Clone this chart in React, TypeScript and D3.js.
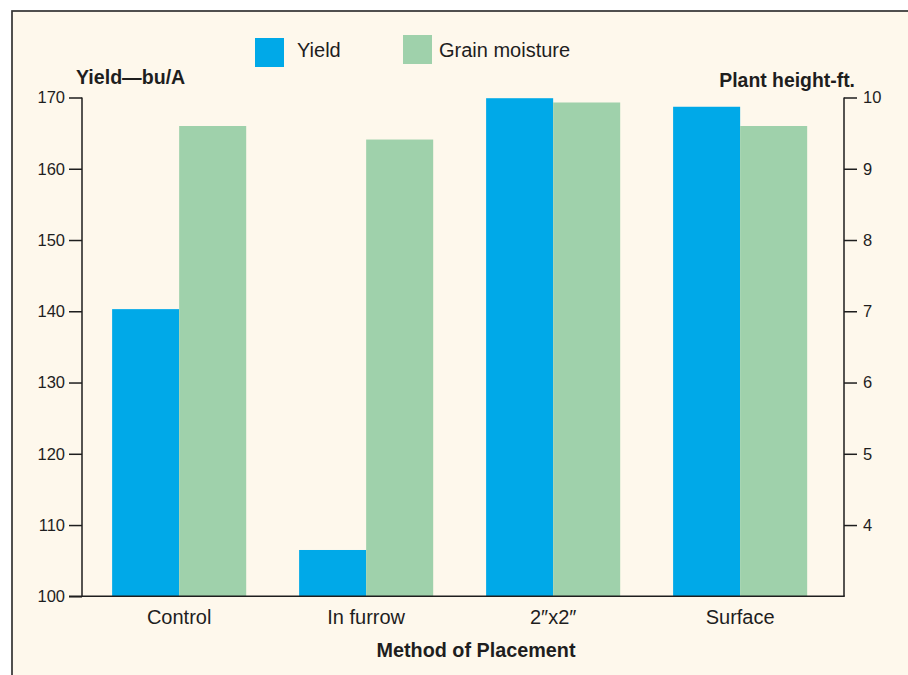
import React, { useEffect, useRef } from "react";
import * as d3 from "d3";

const categories = ["Control", "In furrow", "2\u2033x2\u2033", "Surface"];
const seriesNames = ["Yield", "Grain moisture"];
const yieldValues = [140.3, 106.5, 169.9, 168.7];
const heightValues = [9.6, 9.41, 9.93, 9.6];
const leftTicks = [100, 110, 120, 130, 140, 150, 160, 170];
const rightTicks = [4, 5, 6, 7, 8, 9, 10];

const W = 908;
const H = 675;
const BG = "#fef8ec";
const BLUE = "#00a9e8";
const GREEN = "#9fd1ab";
const INK = "#1e1e1e";
const FONT = "'Liberation Sans', Arial, Helvetica, sans-serif";

export default function App() {
  const leftAxisRef = useRef<SVGGElement>(null);
  const rightAxisRef = useRef<SVGGElement>(null);
  const bottomAxisRef = useRef<SVGGElement>(null);

  const x0 = 82;
  const x1 = 844;
  const yBottom = 596.3;
  const yTop = 97.5;

  const x = d3
    .scaleBand<string>()
    .domain(categories)
    .range([x0, x1])
    .paddingInner(0.283)
    .paddingOuter(0.179)
    .align(0.45);
  const xSub = d3.scaleBand<string>().domain(seriesNames).range([0, x.bandwidth()]);
  const yLeft = d3.scaleLinear().domain([100, 170]).range([yBottom, yTop]);
  const yRight = d3.scaleLinear().domain([3, 10]).range([yBottom, yTop]);

  useEffect(() => {
    const styleAxis = (g: d3.Selection<SVGGElement, unknown, null, undefined>) => {
      g.select(".domain").remove();
      g.selectAll(".tick line").attr("stroke", INK).attr("stroke-width", 1.5);
      g.selectAll(".tick text")
        .attr("fill", INK)
        .style("font-family", FONT)
        .style("font-size", "16.5px");
    };
    const gl = d3.select(leftAxisRef.current!);
    gl.call(d3.axisLeft(yLeft).tickValues(leftTicks).tickSize(13).tickPadding(4).tickFormat(d3.format("d")));
    styleAxis(gl);
    const gr = d3.select(rightAxisRef.current!);
    gr.call(d3.axisRight(yRight).tickValues(rightTicks).tickSize(13).tickPadding(6).tickFormat(d3.format("d")));
    styleAxis(gr);
    const gb = d3.select(bottomAxisRef.current!);
    gb.call(d3.axisBottom(x).tickSize(0).tickPadding(14));
    gb.select(".domain").remove();
    gb.selectAll(".tick text")
      .attr("fill", INK)
      .style("font-family", FONT)
      .style("font-size", "20px");
  }, []);

  return (
    <svg
      width={W}
      height={H}
      style={{ position: "absolute", left: 0, top: 0, background: "#ffffff" }}
    >
      <rect x={12} y={11} width={W} height={H} fill={BG} stroke="#333" strokeWidth={1.7} />

      {/* legend */}
      <rect x={255} y={38} width={29} height={29} fill={BLUE} />
      <text x={297} y={57.3} fontFamily={FONT} fontSize={20} fill={INK}>
        {seriesNames[0]}
      </text>
      <rect x={403} y={35} width={29} height={29} fill={GREEN} />
      <text x={439} y={56.7} fontFamily={FONT} fontSize={20} fill={INK}>
        {seriesNames[1]}
      </text>

      {/* axis titles */}
      <text x={76} y={84} fontFamily={FONT} fontSize={19.6} fontWeight="bold" fill={INK}>
        Yield—bu/A
      </text>
      <text x={855} y={87} textAnchor="end" fontFamily={FONT} fontSize={19.4} fontWeight="bold" fill={INK}>
        Plant height-ft.
      </text>
      <text x={476} y={657} textAnchor="middle" fontFamily={FONT} fontSize={19.8} fontWeight="bold" fill={INK}>
        Method of Placement
      </text>

      {/* bars */}
      {categories.map((c, i) => (
        <g key={c} transform={`translate(${x(c)},0)`}>
          <rect
            x={xSub(seriesNames[0])}
            y={yLeft(yieldValues[i])}
            width={xSub.bandwidth()}
            height={yBottom - yLeft(yieldValues[i])}
            fill={BLUE}
          />
          <rect
            x={xSub(seriesNames[1])}
            y={yRight(heightValues[i])}
            width={xSub.bandwidth()}
            height={yBottom - yRight(heightValues[i])}
            fill={GREEN}
          />
        </g>
      ))}

      {/* axes */}
      <g ref={leftAxisRef} transform={`translate(${x0},0)`} />
      <g ref={rightAxisRef} transform={`translate(${x1},0)`} />
      <g ref={bottomAxisRef} transform={`translate(0,${yBottom})`} />
      <line x1={x0} x2={x0} y1={yTop} y2={yBottom} stroke={INK} strokeWidth={1.5} />
      <line x1={x1} x2={x1} y1={yRight(10)} y2={yBottom} stroke={INK} strokeWidth={1.5} />
      <line x1={x0 - 13} x2={x1 + 0.75} y1={yBottom} y2={yBottom} stroke={INK} strokeWidth={1.5} />
    </svg>
  );
}
